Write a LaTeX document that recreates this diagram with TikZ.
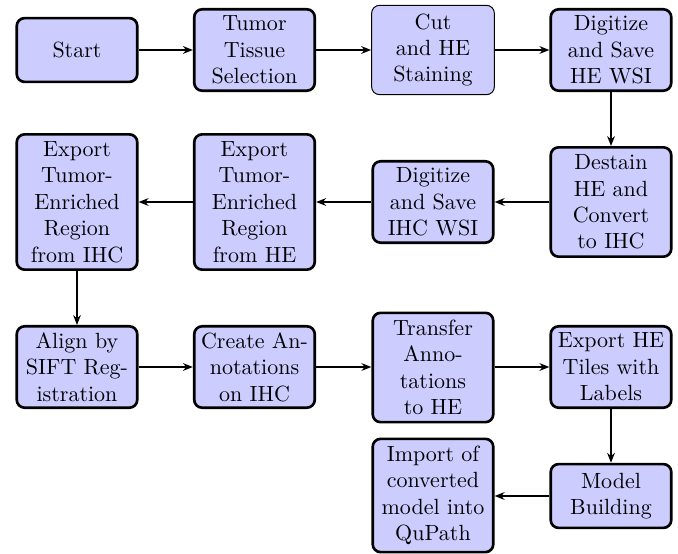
\documentclass[tikz,border=0pt]{standalone}
\usetikzlibrary{arrows.meta}
\begin{document}
\begin{tikzpicture}[x=0.4545pt,y=-0.4545pt,
  box/.style={draw=black,line width=1.2pt,fill=blue!20,rounded corners=3.6pt,
    minimum width=54.8pt,align=center,inner sep=1pt,font=\normalsize},
  thinbox/.style={box,line width=0.45pt,minimum width=55.8pt},
  conn/.style={line width=0.95pt,-{Stealth[length=4.5pt,width=3.5pt]}}]
\useasboundingbox (0,0) rectangle (678,554);
% row 1
\node[box,minimum height=29pt] (start) at (77,50) {Start};
\node[box,minimum height=37pt] (tumor) at (254.5,50) {Tumor\\Tissue\\Selection};
\node[thinbox,minimum height=40.6pt] (cut) at (433,50) {Cut\\and HE\\Staining};
\node[box,minimum height=37pt] (dighe) at (611,50) {Digitize\\and Save\\HE WSI};
% row 2
\node[box,minimum height=49.7pt] (destain) at (611,202) {Destain\\HE and\\Convert\\to IHC};
\node[box,minimum height=37pt] (digihc) at (433,202) {Digitize\\and Save\\IHC WSI};
\node[box,minimum height=61.5pt] (exphe) at (254.5,202) {Export\\Tumor-\\Enriched\\Region\\from HE};
\node[box,minimum height=61.5pt] (expihc) at (77,202) {Export\\Tumor-\\Enriched\\Region\\from IHC};
% row 3
\node[box,minimum height=37pt] (align) at (77,367) {Align by\\SIFT Reg-\\istration};
\node[box,minimum height=37pt] (create) at (254.5,367) {Create An-\\notations\\on IHC};
\node[box,minimum height=49.7pt] (transfer) at (433,367.5) {Transfer\\Anno-\\tations\\to HE};
\node[box,minimum height=37pt] (tiles) at (611,367) {Export HE\\Tiles with\\Labels};
% row 4
\node[box,minimum height=29pt] (model) at (611,496) {Model\\Building};
\node[box,minimum height=51.5pt] (import) at (433,495.5) {Import of\\converted\\model into\\QuPath};
% connectors
\draw[conn] (start) -- (tumor);
\draw[conn] (tumor) -- (cut);
\draw[conn] (cut) -- (dighe);
\draw[conn] (dighe) -- (destain);
\draw[conn] (destain) -- (digihc);
\draw[conn] (digihc) -- (exphe);
\draw[conn] (exphe) -- (expihc);
\draw[conn] (expihc) -- (align);
\draw[conn] (align) -- (create);
\draw[conn] (create.east) -- (create.east -| transfer.west);
\draw[conn] (transfer.east |- tiles.west) -- (tiles.west);
\draw[conn] (tiles) -- (model);
\draw[conn] (model.west) -- (model.west -| import.east);
\end{tikzpicture}
\end{document}
